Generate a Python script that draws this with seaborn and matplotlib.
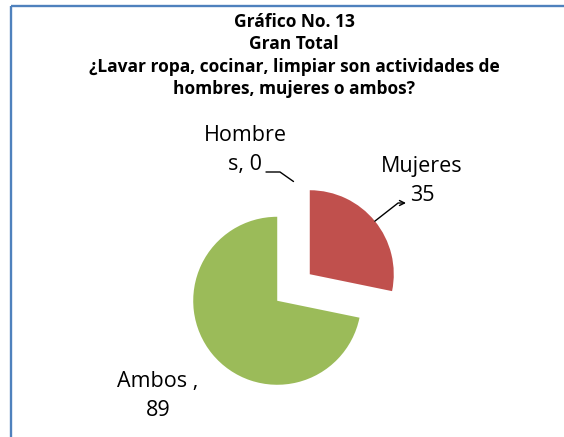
import numpy as np
import matplotlib
matplotlib.use("Agg")
import matplotlib.pyplot as plt
import seaborn as sns

# Survey totals
categories = ["Hombres", "Mujeres", "Ambos"]
values = [0, 35, 89]
label_texts = ["Hombre\ns, 0", "Mujeres\n35", "Ambos ,\n89"]
title_lines = ["Gráfico No. 13", "Gran Total",
               "¿Lavar ropa, cocinar, limpiar son actividades de",
               "hombres, mujeres o ambos?"]

sns.set_theme(style="white")
plt.rcParams["font.family"] = ["Open Sans", "DejaVu Sans"]
plt.rcParams["text.color"] = "black"

W, H = 564, 437
fig = plt.figure(figsize=(W / 100, H / 100), dpi=100)
ax = fig.add_axes([0, 0, 1, 1])

colors = ["#4F81BD", "#C0504D", "#9BBB59"]
radius = 84
center = (293.5, H - 287.5)
wedges, _ = ax.pie(values, colors=colors, startangle=90, counterclock=False,
                   radius=radius, center=center, explode=[21, 21, 21],
                   wedgeprops=dict(linewidth=0))
ax.set_xlim(0, W)
ax.set_ylim(0, H)
ax.set_aspect("equal")
ax.axis("off")

# chart frame (top and left edges)
ax.plot([10.5, W], [H - 5.5, H - 5.5], color="#4F81BD", lw=1.7,
        solid_capstyle="butt")
ax.plot([10.5, 10.5], [H - 5.5, 0], color="#4F81BD", lw=1.7,
        solid_capstyle="butt")

# title
ys = [22, 44, 67, 89]
for line, y in zip(title_lines, ys):
    ax.text(W / 2 + 12, H - y, line, ha="center", va="center",
            fontsize=12.5, fontweight="bold", color="black")


def edge_point(w):
    ang = np.deg2rad(0.5 * (w.theta1 + w.theta2))
    cx, cy = w.center
    return cx + w.r * np.cos(ang), cy + w.r * np.sin(ang)


fs = 15.5
ls = 1.45
# Hombres (zero slice)
p = edge_point(wedges[0])
ax.text(245, H - 150, label_texts[0], ha="center", va="center",
        fontsize=fs, linespacing=ls, color="black")
ax.plot([266, 280, p[0]], [H - 172, H - 172, p[1] + 1], color="black", lw=1.0)

# Mujeres
p = edge_point(wedges[1])
ax.text(422, H - 181, label_texts[1], ha="center", va="center",
        fontsize=fs, linespacing=ls, color="black")
ax.annotate("", xy=(406, H - 203), xytext=p,
            arrowprops=dict(arrowstyle="->,head_length=0.3,head_width=0.15",
                            color="black", lw=1.0, shrinkA=0, shrinkB=0,
                            connectionstyle="angle,angleA=38,angleB=0,rad=0"))

# Ambos
ax.text(158, H - 396, label_texts[2], ha="center", va="center",
        fontsize=fs, linespacing=ls, color="black")

fig.savefig("out.png", dpi=100)
